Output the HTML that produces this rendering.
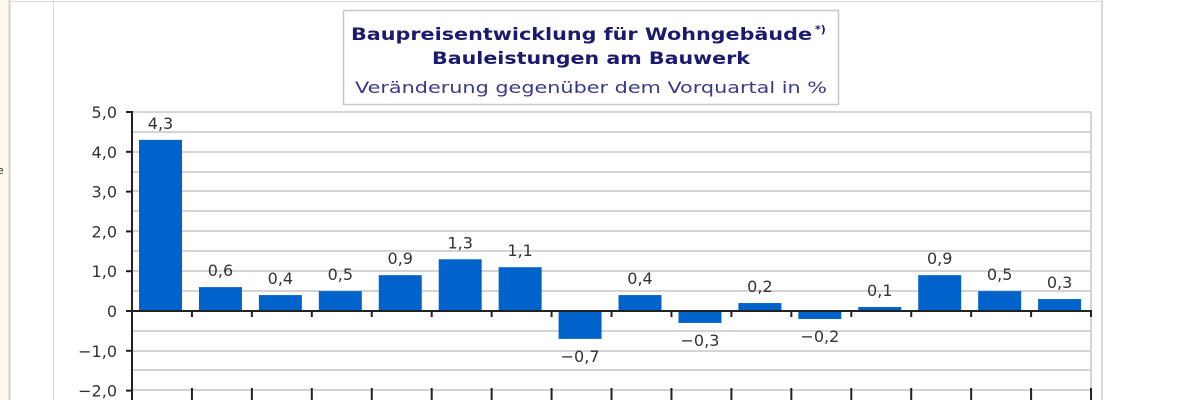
<!DOCTYPE html>
<html><head><meta charset="utf-8"><style>
html,body{margin:0;padding:0;background:#fff;width:1200px;height:400px;overflow:hidden}
</style></head><body>
<svg width="1200" height="400" xmlns="http://www.w3.org/2000/svg" font-family="'DejaVu Sans','Liberation Sans',sans-serif">
<rect x="0" y="0" width="9" height="400" fill="#fffbea"/>
<line x1="9.5" y1="0" x2="9.5" y2="400" stroke="#d0d0d0" stroke-width="2"/>
<line x1="53.5" y1="0" x2="53.5" y2="400" stroke="#d8d8d8" stroke-width="1"/>
<line x1="9" y1="1.5" x2="1102" y2="1.5" stroke="#d8d8d8" stroke-width="1"/>
<line x1="1102" y1="0" x2="1102" y2="400" stroke="#d0d0d0" stroke-width="1.5"/>
<text x="-3" y="174" font-size="11" fill="#333">e</text>
<rect x="343.5" y="10.5" width="495" height="94" fill="#fff" stroke="#c8c8c8" stroke-width="1.5"/>
<text x="351" y="40" font-size="17" font-weight="bold" fill="#1a1a6e" textLength="461" lengthAdjust="spacingAndGlyphs">Baupreisentwicklung für Wohngebäude</text>
<text x="815" y="33" font-size="11" font-weight="bold" fill="#1a1a6e">*)</text>
<text x="591" y="64" font-size="17" font-weight="bold" fill="#1a1a6e" text-anchor="middle" textLength="318" lengthAdjust="spacingAndGlyphs">Bauleistungen am Bauwerk</text>
<text x="355" y="93" font-size="16" fill="#3a3a8a" textLength="472" lengthAdjust="spacingAndGlyphs">Veränderung gegenüber dem Vorquartal in %</text>
<g stroke="#d4d4d4" stroke-width="2">
<line x1="132" y1="112" x2="1091" y2="112"/><line x1="132" y1="132" x2="1091" y2="132"/>
<line x1="132" y1="152" x2="1091" y2="152"/><line x1="132" y1="172" x2="1091" y2="172"/>
<line x1="132" y1="191" x2="1091" y2="191"/><line x1="132" y1="211" x2="1091" y2="211"/>
<line x1="132" y1="231" x2="1091" y2="231"/><line x1="132" y1="251" x2="1091" y2="251"/>
<line x1="132" y1="271" x2="1091" y2="271"/><line x1="132" y1="291" x2="1091" y2="291"/>
<line x1="132" y1="331" x2="1091" y2="331"/><line x1="132" y1="351" x2="1091" y2="351"/>
<line x1="132" y1="370" x2="1091" y2="370"/><line x1="132" y1="390" x2="1091" y2="390"/>
<line x1="1091" y1="112" x2="1091" y2="400"/>
</g>
<g fill="#0063cc" id="bars"></g>
<g stroke="#222" stroke-width="2">
<line x1="132" y1="111" x2="132" y2="400"/>
<line x1="131" y1="311" x2="1092" y2="311"/>
</g>
<g id="ticks" stroke="#222" stroke-width="2"></g>
<g font-size="16" fill="#333" text-anchor="end" id="ylab"></g>
<g font-size="16" fill="#333" text-anchor="middle" id="vlab"></g>
<script>
var ns="http://www.w3.org/2000/svg";
function el(p,t,a,txt){var e=document.createElementNS(ns,t);for(var k in a)e.setAttribute(k,a[k]);if(txt!==undefined)e.textContent=txt;document.getElementById(p).appendChild(e);}
var v=[4.3,0.6,0.4,0.5,0.9,1.3,1.1,-0.7,0.4,-0.3,0.2,-0.2,0.1,0.9,0.5,0.3];
var s=39.8,z=311;
v.forEach(function(d,i){var x=132+i*59.94+7;var h=Math.abs(d)*s;var y=d>=0?z-h:z;
el("bars","rect",{x:x,y:y,width:43,height:h});
var a=Math.abs(d);var t=(d<0?"\u2212":"")+Math.floor(a+1e-9)+","+Math.round(a*10)%10;
var ly=d>=0?y-11:z+h+23;
el("vlab","text",{x:x+21.5,y:ly},t);});
for(var i=1;i<=16;i++){var x=132+i*59.94;el("ticks","line",{x1:x,y1:311,x2:x,y2:317});el("ticks","line",{x1:x,y1:388,x2:x,y2:400});}
var yl=["5,0","4,0","3,0","2,0","1,0","0","\u22121,0","\u22122,0"];
yl.forEach(function(t,i){var y=112+i*39.8;el("ticks","line",{x1:126,y1:y,x2:132,y2:y});el("ylab","text",{x:117,y:y+6},t);});
</script>
</svg>
</body></html>
